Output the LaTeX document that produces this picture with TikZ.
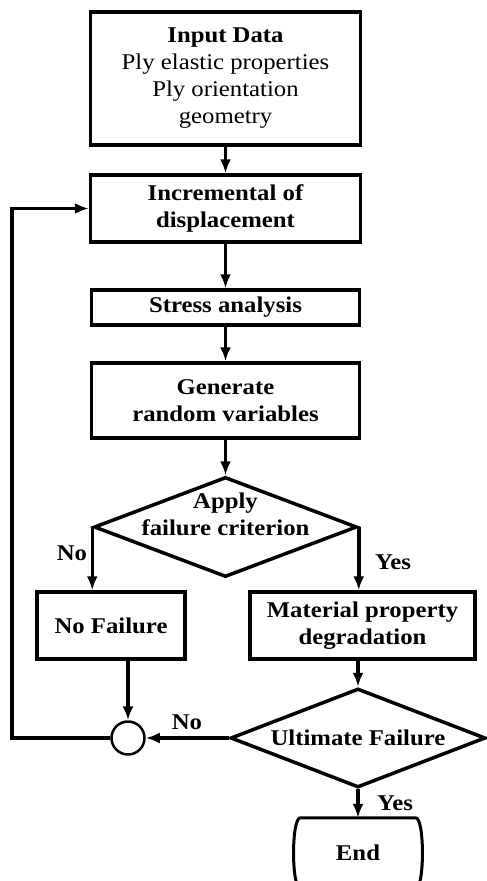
\documentclass[tikz,border=0pt]{standalone}
\usepackage{fontspec}
\setmainfont{Liberation Serif}[FakeStretch=1.1]
\usetikzlibrary{shapes.geometric,arrows.meta}

\tikzset{
  txt/.style={font=\fontsize{22.5}{27}\selectfont, align=center},
  tag/.style={txt, font=\fontsize{22.5}{27}\selectfont\bfseries},
  block/.style={tag, draw, line width=3.5pt, inner sep=0pt},
  decision/.style={diamond, draw, line width=3.5pt, inner sep=0pt},
  flow/.style={line width=3.5pt, ->},
}

\begin{document}
\begin{tikzpicture}[x=1pt, y=1pt, >={Latex[length=14pt,width=11pt]}]
  \useasboundingbox (0,0) rectangle (487,-881);

  % boxes of the main column
  \node[txt, draw, line width=3.5pt, inner sep=0pt, minimum width=270pt, minimum height=133pt] (in) at (225.5,-78.5)
    {\textbf{Input Data}\\Ply elastic properties\\Ply orientation\\geometry};
  \node[block, minimum width=270pt, minimum height=67pt] (inc) at (225.5,-208.5) {Incremental of\\displacement};
  \node[block, minimum width=268pt, minimum height=35pt] (stress) at (225.5,-307.5) {Stress analysis};
  \node[block, minimum width=268pt, minimum height=75pt] (gen) at (225.5,-400.5) {Generate\\random variables};

  \node[decision, minimum width=263pt, minimum height=100pt] (apply) at (225.5,-527) {};
  \node[tag] (applytxt) at (225.5,-514) {Apply\\failure criterion};

  \node[block, minimum width=148pt, minimum height=67pt] (nofail) at (111,-625.5) {No Failure};
  \node[block, minimum width=225pt, minimum height=67pt] (mat) at (362.5,-625.5) {Material property\\degradation};

  \node[decision, minimum width=255pt, minimum height=99pt] (ult) at (358,-738) {};
  \node[tag] (ulttxt) at (358,-738) {Ultimate Failure};

  \node[circle, draw, line width=2.5pt, minimum size=33pt, inner sep=0pt] (join) at (128,-738) {};
  \coordinate (loop) at (12,-738);

  % end terminal
  \node[tag, minimum width=133pt, minimum height=70pt, inner sep=0pt] (endbox) at (358,-853) {End};
  \draw[line width=3pt] ([xshift=9pt]endbox.south west) .. controls (endbox.south west) and (endbox.north west) .. ([xshift=9pt]endbox.north west)
    -- ([xshift=-9pt]endbox.north east) .. controls (endbox.north east) and (endbox.south east) .. ([xshift=-9pt]endbox.south east);

  % connectors
  \draw[flow] (in) -- (inc);
  \draw[flow] (inc) -- (stress);
  \draw[flow] (stress) -- (gen);
  \draw[flow] (gen) -- (apply);
  \draw[flow] (apply.west) -- (apply.west |- nofail.north);
  \draw[flow] (apply.east) -- (apply.east |- mat.north);
  \draw[flow] (mat.south -| ult.north) -- (ult.north);
  \draw[flow] (nofail.south -| join.north) -- (join.north);
  \draw[flow] (ult.west) -- (join.east);
  \draw[flow] (join.west) -- (loop) |- (inc.west);
  \draw[flow] (ult.south) -- (ult.south |- endbox.north);

  % branch labels
  \node[tag] (no1) at (72,-553) {No};
  \node[tag] (yes1) at (393,-562) {Yes};
  \node[tag] (no2) at (187,-722) {No};
  \node[tag] (yes2) at (395,-803) {Yes};
\end{tikzpicture}
\end{document}
